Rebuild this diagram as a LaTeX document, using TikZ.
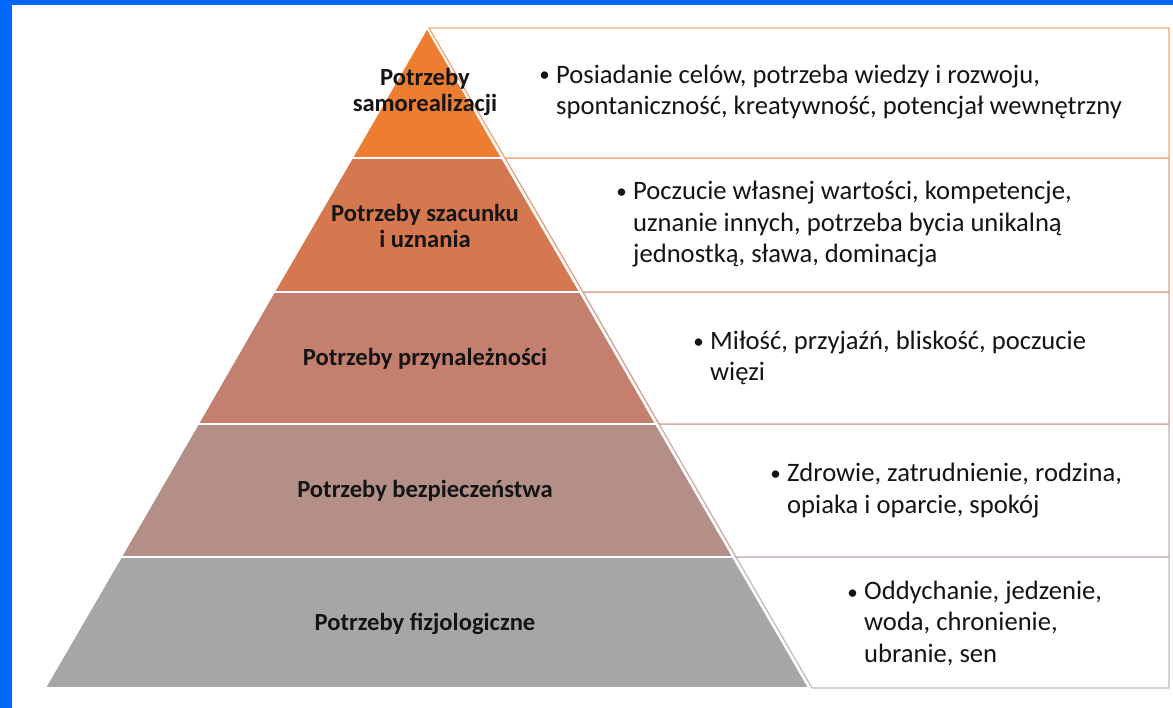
\documentclass[tikz,border=0pt]{standalone}
\usepackage{fontspec}
\setmainfont{Carlito}
\definecolor{frameblue}{HTML}{0066FF}
\definecolor{tA}{HTML}{ED7D31}
\definecolor{tB}{HTML}{D6784F}
\definecolor{tC}{HTML}{C47F6F}
\definecolor{tD}{HTML}{B38F87}
\definecolor{tE}{HTML}{A6A6A6}
\definecolor{oA}{HTML}{F2A774}
\definecolor{oB}{HTML}{E3A084}
\definecolor{oC}{HTML}{D6A197}
\definecolor{oD}{HTML}{C9B0AB}
\definecolor{oE}{HTML}{BFBFBF}
\tikzset{
  tier/.style={draw=white, line width=1.6pt, line join=miter},
  infobox/.style={line width=1.3pt, fill=white},
  lbl/.style={font=\bfseries\fontsize{24.6}{26}\selectfont, align=center, inner sep=0pt, anchor=base, text=black!92},
  txt/.style={font=\fontsize{26.6}{31.5}\selectfont, align=left, inner sep=0pt, anchor=base west, text=black!92},
  bul/.style={font=\fontsize{21}{26}\selectfont, inner sep=0pt, anchor=base east, text=black!92}
}
\begin{document}
\begin{tikzpicture}[x=1pt,y=-1pt]
\useasboundingbox (0,0) rectangle (1173,708);
\fill[white] (0,0) rectangle (1173,708);
\fill[frameblue] (0,0) rectangle (1173,5.5);
\fill[frameblue] (0,0) rectangle (11.5,708);
% info boxes (behind the pyramid)
\draw[infobox, draw=oE] (736,557) -- (1169,557) -- (1169,688) -- (812,688) -- cycle;
\draw[infobox, draw=oD] (659,424) -- (1169,424) -- (1169,557) -- (736,557) -- cycle;
\draw[infobox, draw=oC] (583,292) -- (1169,292) -- (1169,424) -- (659,424) -- cycle;
\draw[infobox, draw=oB] (505,158) -- (1169,158) -- (1169,292) -- (583,292) -- cycle;
\draw[infobox, draw=oA] (429,28) -- (1169,28) -- (1169,158) -- (505,158) -- cycle;
% pyramid tiers
\coordinate (apex) at (427,28);
\filldraw[tier, fill=tA] (apex) -- (502,158) -- (352,158) -- cycle;
\filldraw[tier, fill=tB] (352,158) -- (502,158) -- (580,292) -- (274,292) -- cycle;
\filldraw[tier, fill=tC] (274,292) -- (580,292) -- (656,424) -- (198,424) -- cycle;
\filldraw[tier, fill=tD] (198,424) -- (656,424) -- (733,557) -- (121,557) -- cycle;
\filldraw[tier, fill=tE] (121,557) -- (733,557) -- (809,688) -- (45,688) -- cycle;
% tier labels (base = last line)
\node[lbl] (l1) at (425,112) {Potrzeby\\samorealizacji};
\node[lbl] (l2) at (425,248) {Potrzeby szacunku\\i uznania};
\node[lbl] (l3) at (425,366) {Potrzeby przynależności};
\node[lbl] (l4) at (425,497) {Potrzeby bezpieczeństwa};
\node[lbl] (l5) at (425,630) {Potrzeby fizjologiczne};
% descriptions (base = last line)
\node[bul] (b1) at (550,82) {•};
\node[txt] (d1) at (556,115) {Posiadanie celów, potrzeba wiedzy i rozwoju,\\spontaniczność, kreatywność, potencjał wewnętrzny};
\node[bul] (b2) at (627,199) {•};
\node[txt] (d2) at (633,263) {Poczucie własnej wartości, kompetencje,\\uznanie innych, potrzeba bycia unikalną\\jednostką, sława, dominacja};
\node[bul] (b3) at (704,349) {•};
\node[txt] (d3) at (710,381) {Miłość, przyjaźń, bliskość, poczucie\\więzi};
\node[bul] (b4) at (781,480) {•};
\node[txt] (d4) at (787,513) {Zdrowie, zatrudnienie, rodzina,\\opiaka i oparcie, spokój};
\node[bul] (b5) at (858,599) {•};
\node[txt] (d5) at (864,662) {Oddychanie, jedzenie,\\woda, chronienie,\\ubranie, sen};
\end{tikzpicture}
\end{document}
